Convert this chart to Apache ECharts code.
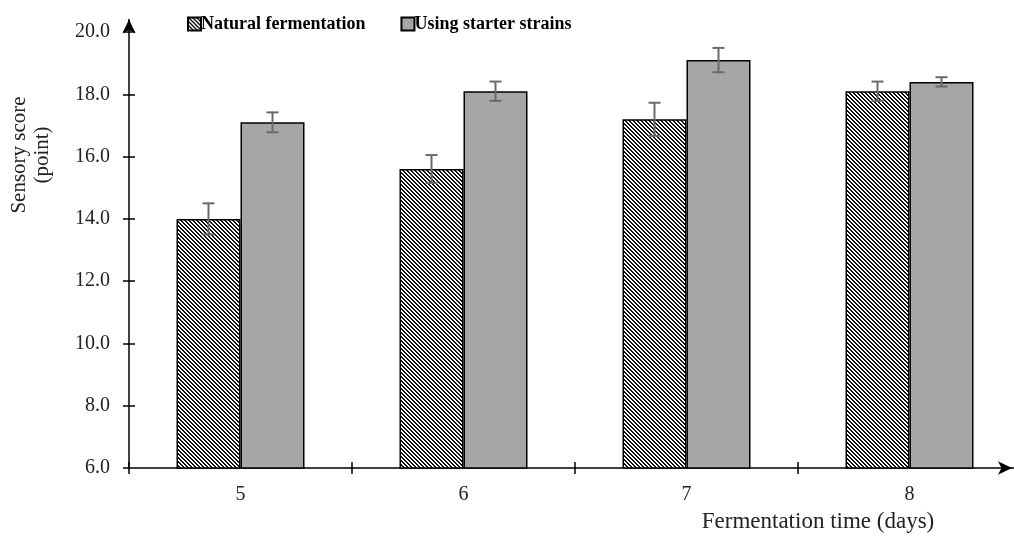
<!DOCTYPE html>
<html>
<head>
<meta charset="utf-8">
<script src="https://cdn.jsdelivr.net/npm/echarts@6/dist/echarts.min.js"></script>
<style>html,body{margin:0;padding:0;background:#fff;overflow:hidden;width:1014px;height:536px;}#c{width:1021px;height:536px;}</style>
</head>
<body>
<div id="c"></div>
<script>
const categories = ['5', '6', '7', '8'];
const naturalValues = [14.0, 15.6, 17.2, 18.1];
const naturalErrors = [0.5, 0.45, 0.53, 0.31];
const starterValues = [17.1, 18.1, 19.1, 18.4];
const starterErrors = [0.32, 0.31, 0.39, 0.15];
const yTickValues = [6, 8, 10, 12, 14, 16, 18, 20];
const seriesNames = ['Natural fermentation', 'Using starter strains'];

const FONT = '"Liberation Serif", "Times New Roman", serif';
const BAR_W = 64;

function makeHatch() {
  const c = document.createElement('canvas');
  c.width = 4; c.height = 4;
  const ctx = c.getContext('2d');
  ctx.fillStyle = '#ffffff';
  ctx.fillRect(0, 0, 4, 4);
  ctx.fillStyle = '#111111';
  for (let y = 0; y < 4; y++) {
    for (let x = 0; x < 4; x++) {
      const d = ((x - y) % 4 + 4) % 4;
      if (d === 0 || d === 1) ctx.fillRect(x, y, 1, 1);
    }
  }
  return c;
}
const hatch = { image: makeHatch(), repeat: 'repeat' };

function errData(vals, errs) {
  return vals.map((v, i) => [i, v, errs[i]]);
}

function errRender(side) {
  return function (params, api) {
    const idx = api.value(0);
    const v = api.value(1);
    const e = api.value(2);
    const c = api.coord([idx, v]);
    const x = c[0] + side * BAR_W / 2;
    const top = api.coord([idx, v + e])[1];
    const bot = api.coord([idx, v - e])[1];
    const cap = 6;
    const style = { stroke: '#6a6a6a', lineWidth: 2 };
    return {
      type: 'group',
      children: [
        { type: 'line', shape: { x1: x, y1: top, x2: x, y2: bot }, style: style },
        { type: 'line', shape: { x1: x - cap, y1: top, x2: x + cap, y2: top }, style: style },
        { type: 'line', shape: { x1: x - cap, y1: bot, x2: x + cap, y2: bot }, style: style }
      ]
    };
  };
}

const chart = echarts.init(document.getElementById('c'), null, { renderer: 'canvas' });
const axisLineStyle = { color: '#000', width: 1.5 };
chart.setOption({
  animation: false,
  backgroundColor: '#fff',
  textStyle: { fontFamily: FONT },
  grid: { left: 129, right: 0, top: 19.6, bottom: 68, containLabel: false },
  legend: {
    data: seriesNames,
    left: 187, top: 15, padding: 0,
    icon: 'rect',
    itemWidth: 13, itemHeight: 13, itemGap: 35,
    textStyle: { fontFamily: FONT, fontWeight: 'bold', fontSize: 18, color: '#000', padding: [0, 0, 0, -5] }
  },
  xAxis: [{
    type: 'category',
    data: categories,
    boundaryGap: true,
    axisLine: { show: true, lineStyle: axisLineStyle, symbol: ['none', 'arrow'], symbolSize: [10, 14], symbolOffset: [0, -9] },
    axisTick: { show: true, length: 6, lineStyle: { color: '#000', width: 1.5 } },
    axisLabel: { fontFamily: FONT, fontSize: 20, color: '#222', margin: 17 },
    splitLine: { show: false }
  }, {
    type: 'category',
    data: categories,
    position: 'bottom',
    boundaryGap: true,
    axisLine: { show: false },
    axisTick: { show: true, inside: true, length: 6, lineStyle: { color: '#000', width: 1.5 } },
    axisLabel: { show: false },
    splitLine: { show: false }
  }],
  yAxis: [{
    type: 'value',
    min: 6, max: 20.4,
    axisLine: { show: true, lineStyle: axisLineStyle, symbol: ['none', 'arrow'], symbolSize: [10, 14] },
    axisTick: { show: true, length: 6, customValues: yTickValues, lineStyle: { color: '#000', width: 1.5 } },
    axisLabel: { fontFamily: FONT, fontSize: 20, color: '#222', margin: 19, customValues: yTickValues, formatter: v => v.toFixed(1) },
    splitLine: { show: false }
  }, {
    type: 'value',
    min: 6, max: 20.4,
    position: 'left',
    axisLine: { show: false },
    axisTick: { show: true, inside: true, length: 6, customValues: yTickValues.slice(1), lineStyle: { color: '#000', width: 1.5 } },
    axisLabel: { show: false },
    splitLine: { show: false }
  }],
  series: [{
    name: seriesNames[0],
    type: 'bar',
    data: naturalValues,
    barWidth: BAR_W,
    barGap: '0%',
    itemStyle: { color: hatch, borderColor: '#000', borderWidth: 1.5 },
    z: 2
  }, {
    name: seriesNames[1],
    type: 'bar',
    data: starterValues,
    barWidth: BAR_W,
    barGap: '0%',
    itemStyle: { color: '#a6a6a6', borderColor: '#000', borderWidth: 1.5 },
    z: 2
  }, {
    type: 'custom',
    renderItem: errRender(-1),
    data: errData(naturalValues, naturalErrors),
    encode: { x: 0, y: 1 },
    z: 5, silent: true
  }, {
    type: 'custom',
    renderItem: errRender(1),
    data: errData(starterValues, starterErrors),
    encode: { x: 0, y: 1 },
    z: 5, silent: true
  }],
  graphic: [{
    type: 'text',
    x: 31, y: 155,
    rotation: Math.PI / 2,
    style: { text: 'Sensory score\n(point)', fontFamily: FONT, fontSize: 21, fill: '#222', align: 'center', verticalAlign: 'middle', lineHeight: 23 }
  }, {
    type: 'text',
    x: 818, y: 522,
    style: { text: 'Fermentation time (days)', fontFamily: FONT, fontSize: 23, fill: '#222', align: 'center', verticalAlign: 'middle' }
  }]
});
</script>
</body>
</html>
